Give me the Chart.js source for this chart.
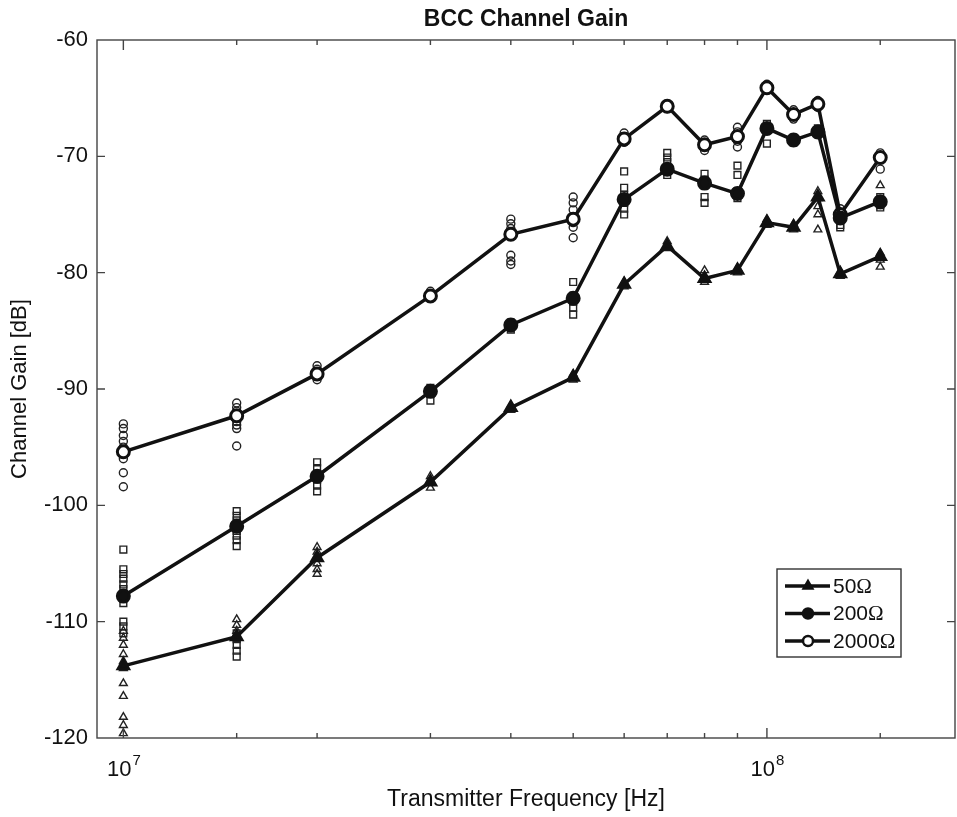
<!DOCTYPE html>
<html>
<head>
<meta charset="utf-8">
<script src="https://cdn.jsdelivr.net/npm/chart.js@4.4.1/dist/chart.umd.min.js"></script>
<style>
	html, body { margin: 0; padding: 0; background: #fff; }
	#chart { display: block; }
</style>
</head>
<body>
<canvas id="chart" width="957" height="817"></canvas>
<script>
// transmitter frequencies [Hz]
const freqs = [10e6, 15e6, 20e6, 30e6, 40e6, 50e6, 60e6, 70e6, 80e6, 90e6, 100e6, 110e6, 120e6, 130e6, 150e6];

// mean channel gain [dB] per load
const gain50 = [-113.8, -111.3, -104.5, -98.0, -91.6, -89.0, -81.0, -77.7, -80.5, -79.8, -75.7, -76.1, -73.5, -80.1, -78.6];
const gain200 = [-107.8, -101.8, -97.5, -90.2, -84.5, -82.2, -73.7, -71.1, -72.3, -73.2, -67.6, -68.6, -67.9, -75.3, -73.9];
const gain2000 = [-95.4, -92.3, -88.7, -82.0, -76.7, -75.4, -68.5, -65.7, -69.0, -68.3, -64.1, -66.4, -65.5, -75.0, -70.1];

// single measurements, one list per frequency (same order as freqs)
const raw50 = [
	[-110.8, -111.4, -112.0, -112.8, -113.4, -114.0, -115.3, -116.4, -118.2, -118.9, -119.6],
	[-109.8, -110.3, -110.8, -111.3],
	[-103.6, -104.0, -104.5, -105.0, -105.5, -105.9],
	[-97.5, -98.0, -98.5],
	[-91.4, -91.8],
	[-88.7, -89.2],
	[-80.8, -81.2],
	[-77.3, -77.9],
	[-79.8, -80.3, -80.8],
	[-79.6, -80.0],
	[-75.4, -75.9],
	[-75.8, -76.3],
	[-73.0, -73.6, -74.3, -75.0, -76.3],
	[-79.9, -80.3],
	[-72.5, -78.3, -78.9, -79.5]
];
// low-load points that were plotted with square markers
const raw50sq = [
	[-110.0, -110.4, -111.0],
	[-111.0, -111.5, -112.0, -112.5, -113.0],
	[], [], [], [], [], [], [], [], [], [], [], [], []
];
const raw200 = [
	[-103.8, -105.5, -105.9, -106.3, -106.8, -107.2, -107.6, -108.0, -108.4],
	[-100.5, -100.9, -101.3, -101.8, -102.2, -102.6, -103.0, -103.5],
	[-96.3, -96.8, -97.3, -97.8, -98.3, -98.8],
	[-89.9, -90.4, -91.0],
	[-84.3, -84.9],
	[-80.8, -82.0, -82.5, -83.0, -83.6],
	[-71.3, -72.7, -73.3, -74.0, -74.5, -75.0],
	[-69.7, -70.1, -70.5, -71.0, -71.6],
	[-71.5, -72.0, -72.5, -73.5, -74.0],
	[-70.8, -71.6, -73.0, -73.6],
	[-67.2, -67.6, -68.9],
	[-68.4, -68.8],
	[-67.6, -68.1],
	[-75.9, -76.1],
	[-73.5, -74.2, -74.4]
];
const raw2000 = [
	[-93.0, -93.4, -94.0, -94.5, -95.0, -95.3, -95.6, -96.0, -97.2, -98.4],
	[-91.2, -91.6, -91.9, -92.2, -92.5, -92.8, -93.1, -93.4, -94.9],
	[-88.0, -88.3, -88.6, -88.9, -89.2],
	[-81.6, -81.9, -82.2],
	[-75.4, -75.8, -76.2, -78.5, -79.0, -79.3],
	[-73.5, -74.0, -74.6, -75.2, -75.7, -76.1, -77.0],
	[-68.0, -68.4, -68.8],
	[-65.5, -65.9],
	[-68.6, -69.0, -69.5],
	[-67.5, -67.9, -68.3, -68.7, -69.2],
	[-63.8, -64.3],
	[-66.0, -66.8],
	[-65.2, -65.8],
	[-74.5],
	[-69.7, -70.0, -71.1]
];

const loadNames = ["50", "200", "2000"];
const yTicks = [-60, -70, -80, -90, -100, -110, -120];
const xLabelTicks = [1e7, 1e8];

const sansFont = "'Liberation Sans', Arial, sans-serif";
const serifFont = "'Liberation Serif', 'Times New Roman', serif";

function meanPoints(gain) {
	return freqs.map((f, i) => ({ x: f, y: gain[i] }));
}
function rawPoints(raw) {
	const pts = [];
	raw.forEach((list, i) => list.forEach((v) => pts.push({ x: freqs[i], y: v })));
	return pts;
}

function rawSet(raw, style, r) {
	return {
		data: rawPoints(raw),
		showLine: false,
		pointStyle: style,
		pointRadius: r,
		pointBorderWidth: 1.4,
		pointBorderColor: "#222",
		pointBackgroundColor: "rgba(0,0,0,0)",
		order: 2,
	};
}
function meanSet(label, gain, style, fill) {
	return {
		label: label,
		data: meanPoints(gain),
		borderColor: "#111",
		borderWidth: 3.5,
		pointStyle: style,
		pointRadius: 6,
		pointBorderWidth: 3,
		pointBorderColor: "#111",
		pointBackgroundColor: fill,
		tension: 0,
		order: 1,
	};
}

// frame with inward tick marks, like the original plot
const frame = {
	id: "frame",
	afterDraw(chart) {
		const { ctx, chartArea: a, scales } = chart;
		const xs = scales.x, ys = scales.y;
		ctx.save();
		ctx.strokeStyle = "#444";
		ctx.lineWidth = 1.4;
		ctx.strokeRect(a.left, a.top, a.right - a.left, a.bottom - a.top);
		ctx.beginPath();
		xs.ticks.forEach((t) => {
			const px = xs.getPixelForValue(t.value);
			if (px <= a.left + 1 || px >= a.right - 1) return;
			const lg = Math.log10(t.value);
			const len = Math.abs(lg - Math.round(lg)) < 1e-9 ? 10 : 5;
			ctx.moveTo(px, a.bottom); ctx.lineTo(px, a.bottom - len);
			ctx.moveTo(px, a.top); ctx.lineTo(px, a.top + len);
		});
		yTicks.forEach((v) => {
			const py = ys.getPixelForValue(v);
			if (py <= a.top + 1 || py >= a.bottom - 1) return;
			ctx.moveTo(a.left, py); ctx.lineTo(a.left + 8, py);
			ctx.moveTo(a.right, py); ctx.lineTo(a.right - 8, py);
		});
		ctx.stroke();

		// x labels as powers of ten
		ctx.fillStyle = "#111";
		ctx.textBaseline = "alphabetic";
		xLabelTicks.forEach((v) => {
			const px = xs.getPixelForValue(v);
			const exp = String(Math.round(Math.log10(v)));
			ctx.font = "22px " + sansFont;
			const wb = ctx.measureText("10").width;
			ctx.font = "15px " + sansFont;
			const we = ctx.measureText(exp).width;
			const x0 = px - (wb + we) / 2;
			ctx.textAlign = "left";
			ctx.font = "22px " + sansFont;
			ctx.fillText("10", x0, a.bottom + 38);
			ctx.font = "15px " + sansFont;
			ctx.fillText(exp, x0 + wb + 1, a.bottom + 27);
		});

		// title centred over the axes
		ctx.font = "bold 23px " + sansFont;
		ctx.textAlign = "center";
		ctx.textBaseline = "middle";
		ctx.fillText("BCC Channel Gain", (a.left + a.right) / 2, 20);
		ctx.restore();
	},
};

// legend box in the lower right corner
const legendBox = {
	id: "legendBox",
	afterDraw(chart) {
		const { ctx } = chart;
		const x0 = 777, y0 = 569, w = 124, h = 88;
		ctx.save();
		ctx.fillStyle = "#fff";
		ctx.fillRect(x0, y0, w, h);
		ctx.strokeStyle = "#333";
		ctx.lineWidth = 1.4;
		ctx.strokeRect(x0, y0, w, h);
		const lines = chart.data.datasets.filter((d) => d.label);
		lines.forEach((d, i) => {
			const cy = y0 + 17 + i * 27.5;
			ctx.strokeStyle = "#111";
			ctx.lineWidth = 3.5;
			ctx.beginPath();
			ctx.moveTo(x0 + 8, cy);
			ctx.lineTo(x0 + 53, cy);
			ctx.stroke();
			ctx.lineWidth = 2.5;
			ctx.fillStyle = d.pointBackgroundColor;
			Chart.helpers.drawPoint(ctx, { pointStyle: d.pointStyle, radius: 5, rotation: 0, borderWidth: 2.5 }, x0 + 31, cy);
			ctx.fillStyle = "#111";
			ctx.textBaseline = "middle";
			ctx.textAlign = "left";
			ctx.font = "21px " + sansFont;
			ctx.fillText(d.label, x0 + 56, cy + 1);
			const tw = ctx.measureText(d.label).width;
			ctx.font = "21px " + serifFont;
			ctx.fillText("\u03A9", x0 + 56 + tw, cy + 1);
		});
		ctx.restore();
	},
};

const ctx = document.getElementById("chart").getContext("2d");
const myChart = new Chart(ctx, {
	type: "line",
	data: {
		datasets: [
			meanSet(loadNames[0], gain50, "triangle", "#111"),
			meanSet(loadNames[1], gain200, "circle", "#111"),
			meanSet(loadNames[2], gain2000, "circle", "#fff"),
			rawSet(raw50, "triangle", 4.5),
			rawSet(raw50sq, "rect", 4.8),
			rawSet(raw200, "rect", 4.8),
			rawSet(raw2000, "circle", 4),
		],
	},
	options: {
		responsive: false,
		animation: false,
		devicePixelRatio: 1,
		layout: { autoPadding: false, padding: { top: 40, right: 2, left: 0, bottom: 0 } },
		plugins: {
			legend: { display: false },
			tooltip: { enabled: false },
			title: { display: false },
		},
		scales: {
			x: {
				type: "logarithmic",
				min: 9.1e6,
				max: 1.96e8,
				grid: { display: false },
				border: { display: false },
				afterFit: (s) => { s.height = 79; s.paddingLeft = 0; s.paddingRight = 0; },
				ticks: { display: false, autoSkip: false },
				title: {
					display: true,
					text: "Transmitter Frequency [Hz]",
					color: "#111",
					font: { family: sansFont, size: 23 },
					padding: { top: 0, bottom: 4 },
				},
			},
			y: {
				min: -120,
				max: -60,
				grid: { display: false },
				border: { display: false },
				afterFit: (s) => { s.width = 97; s.paddingTop = 0; s.paddingBottom = 0; },
				ticks: {
					stepSize: 10,
					padding: 1,
					color: "#111",
					font: { family: sansFont, size: 22 },
				},
				title: {
					display: true,
					text: "Channel Gain [dB]",
					color: "#111",
					font: { family: sansFont, size: 22 },
					padding: { top: 7, bottom: 0 },
				},
			},
		},
	},
	plugins: [frame, legendBox],
});
</script>
</body>
</html>
